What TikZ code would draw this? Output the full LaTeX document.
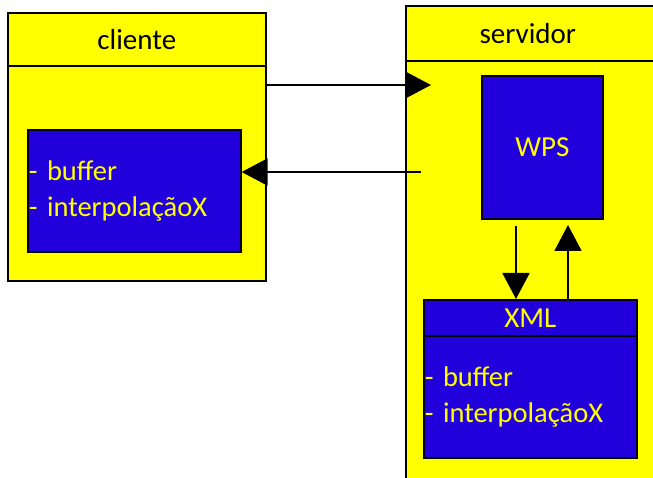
\documentclass[tikz,border=0pt]{standalone}
\usepackage{fontspec}
\setmainfont{Carlito}
\usetikzlibrary{arrows.meta,positioning}
\definecolor{boxyellow}{RGB}{255,255,0}
\definecolor{boxblue}{RGB}{34,0,220}
\tikzset{
  outerbox/.style={draw=black, line width=1.6pt, fill=boxyellow, inner sep=0pt},
  innerbox/.style={draw=black, line width=1.6pt, fill=boxblue, text=boxyellow, inner sep=0pt},
  bodytext/.style={font=\fontsize{28.5}{36}\selectfont, align=left, inner xsep=1pt},
  headtext/.style={font=\fontsize{29}{32}\selectfont},
  conn/.style={line width=1.8pt, -{Triangle[length=26pt,width=27pt]}},
}
\begin{document}
\begin{tikzpicture}[x=1pt,y=-1pt]
\useasboundingbox (0,0) rectangle (653,478);
% client
\node[outerbox, minimum width=258pt, minimum height=215pt, anchor=north west] (client) at (7,65) {};
\node[outerbox, headtext, minimum width=258pt, minimum height=53pt, anchor=north west] (clienthead) at (7,12) {\raisebox{-2pt}{cliente}};
\node[innerbox, bodytext, text width=211pt, minimum height=122pt, anchor=north west] (clientinner) at (27,129) {\raisebox{-2pt}{- buffer}\\\raisebox{-2pt}{- interpolaçãoX}};
% server
\node[outerbox, minimum width=260pt, minimum height=430pt, anchor=north west] (server) at (405,60) {};
\node[outerbox, headtext, minimum width=260pt, minimum height=55pt, anchor=north west] (serverhead) at (405,5) {\hspace*{-8pt}\raisebox{-2pt}{servidor}\hspace*{8pt}};
\node[innerbox, headtext, minimum width=121pt, minimum height=143pt, anchor=north west] (wps) at (481,75) {WPS};
\node[innerbox, bodytext, text width=211pt, minimum height=122pt, anchor=north west] (xml) at (423,335) {- buffer\\- interpolaçãoX};
\node[innerbox, headtext, minimum width=213pt, minimum height=36pt, anchor=north west] (xmlhead) at (423,299) {XML};
% connectors
\coordinate (reqtip) at (431,85);
\coordinate (respstart) at (421,172);
\coordinate (downstart) at (516,226);
\coordinate (uptip) at (568,225);
\draw[conn] (client.east |- reqtip) -- (reqtip);
\draw[conn] (respstart) -- (clientinner.east |- respstart);
\draw[conn] (downstart) -- (downstart |- xmlhead.north);
\draw[conn] (uptip |- xmlhead.north) -- (uptip);
\end{tikzpicture}
\end{document}
